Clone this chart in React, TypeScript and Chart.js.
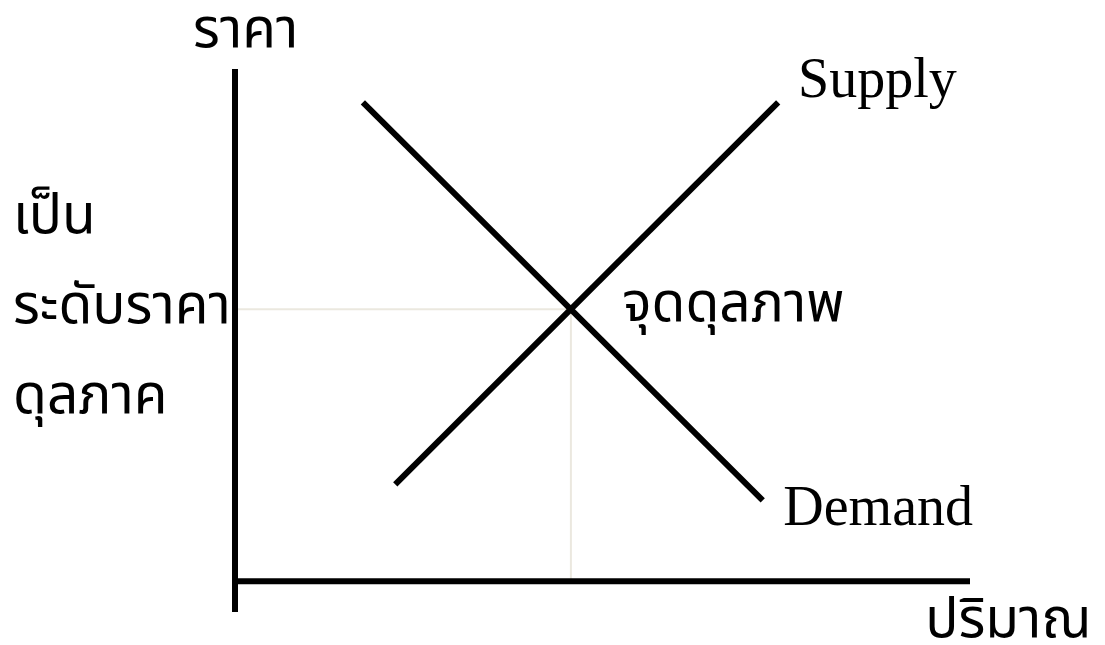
import React, { useEffect, useRef } from "react";
import { Chart, registerables } from "chart.js";

Chart.register(...registerables);

// Data (in chart units: quantity on x, price on y)
const demandX = [17.4, 71.8];
const demandY = [93.5, 15.8];
const supplyX = [21.8, 73.9];
const supplyY = [18.9, 93.5];
const equilibrium = { q: 45.7, p: 53.1 };

const axisMax = { q: 100, p: 100 };
const axisMin = { q: 0, p: -6 };

// Text labels placed in chart units
const labelTexts = ["ราคา", "Supply", "เป็น", "ระดับราคา", "ดุลภาค", "จุดดุลภาพ", "Demand", "ปริมาณ"];
const labelQ = [-5.7, 76.6, -30.2, -30.2, -30.2, 52.7, 74.6, 93.9];
const labelP = [104.2, 94.5, 67.9, 50.4, 32.8, 50.75, 10.9, -10.9];
const labelKind = ["thai", "latin", "thai", "thai", "thai", "thai", "latin", "thai"];

const THAI_FONT = '"Noto Sans Thai", "Noto Sans", "DejaVu Sans", sans-serif';
const LATIN_FONT = '"Liberation Serif", "Times New Roman", serif';

const labelPlugin = {
  id: "textLabels",
  afterDraw(chart: any) {
    const { ctx, scales } = chart;
    ctx.save();
    ctx.fillStyle = "#000";
    ctx.textAlign = "left";
    ctx.textBaseline = "alphabetic";
    labelTexts.forEach((t, i) => {
      const x = scales.x.getPixelForValue(labelQ[i]);
      const y = scales.y.getPixelForValue(labelP[i]);
      ctx.font = labelKind[i] === "thai" ? `55px ${THAI_FONT}` : `56px ${LATIN_FONT}`;
      ctx.fillText(t, x, y);
    });
    ctx.restore();
  },
};

export default function App() {
  const ref = useRef<HTMLCanvasElement>(null);
  useEffect(() => {
    if (!ref.current) return;
    const guide = "#ebe8df";
    const common = { showLine: true, pointRadius: 0, clip: false as const };
    const chart = new Chart(ref.current, {
      type: "scatter",
      data: {
        datasets: [
          {
            ...common,
            label: "Demand",
            data: demandX.map((x, i) => ({ x, y: demandY[i] })),
            borderColor: "#000",
            borderWidth: 6,
            order: 1,
          },
          {
            ...common,
            label: "Supply",
            data: supplyX.map((x, i) => ({ x, y: supplyY[i] })),
            borderColor: "#000",
            borderWidth: 6,
            order: 1,
          },
          {
            ...common,
            label: "price axis",
            data: [
              { x: 0, y: axisMin.p },
              { x: 0, y: axisMax.p },
            ],
            borderColor: "#000",
            borderWidth: 6,
            order: 2,
          },
          {
            ...common,
            label: "quantity axis",
            data: [
              { x: 0, y: 0 },
              { x: axisMax.q, y: 0 },
            ],
            borderColor: "#000",
            borderWidth: 6,
            order: 2,
          },
          {
            ...common,
            label: "price guide",
            data: [
              { x: 0, y: equilibrium.p },
              { x: equilibrium.q, y: equilibrium.p },
            ],
            borderColor: guide,
            borderWidth: 2,
            order: 3,
          },
          {
            ...common,
            label: "quantity guide",
            data: [
              { x: equilibrium.q, y: equilibrium.p },
              { x: equilibrium.q, y: 0 },
            ],
            borderColor: guide,
            borderWidth: 2,
            order: 3,
          },
        ],
      },
      options: {
        animation: false,
        responsive: false,
        layout: { padding: { left: 235, right: 135, top: 69, bottom: 33 } },
        scales: {
          x: { type: "linear", min: axisMin.q, max: axisMax.q, display: false },
          y: { type: "linear", min: axisMin.p, max: axisMax.p, display: false },
        },
        plugins: { legend: { display: false }, tooltip: { enabled: false } },
        elements: { line: { borderCapStyle: "butt", tension: 0 } },
      },
      plugins: [labelPlugin],
    });
    return () => chart.destroy();
  }, []);
  return (
    <div style={{ position: "fixed", left: 0, top: 0, width: 1105, height: 645, background: "#fff" }}>
      <canvas ref={ref} width={1105} height={645} style={{ width: 1105, height: 645 }} />
    </div>
  );
}
